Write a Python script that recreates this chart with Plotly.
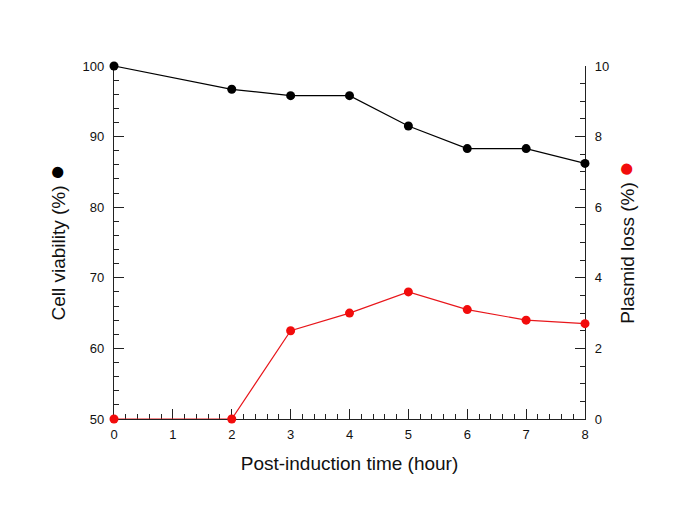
import plotly.graph_objects as go

hours = [0, 2, 3, 4, 5, 6, 7, 8]
cell_viability = [100, 96.7, 95.8, 95.8, 91.5, 88.3, 88.3, 86.2]
plasmid_loss = [0, 0, 2.5, 3.0, 3.6, 3.1, 2.8, 2.7]

x_ticks = [0, 1, 2, 3, 4, 5, 6, 7, 8]
left_ticks = [50, 60, 70, 80, 90, 100]
right_ticks = [0, 2, 4, 6, 8, 10]

FONT = "Liberation Sans, Arial, sans-serif"

fig = go.Figure()
fig.add_trace(go.Scatter(
    x=hours, y=cell_viability, mode="lines+markers",
    line=dict(color="black", width=1.2),
    marker=dict(color="black", size=9),
    cliponaxis=False, yaxis="y", showlegend=False,
))
fig.add_trace(go.Scatter(
    x=hours, y=plasmid_loss, mode="lines+markers",
    line=dict(color="#e8161b", width=1.2),
    marker=dict(color="#f20c0c", size=9),
    cliponaxis=False, yaxis="y2", showlegend=False,
))

axis_common = dict(
    showgrid=False, zeroline=False, showline=True, linecolor="#222",
    linewidth=1.2, ticks="inside", ticklen=10, tickwidth=1.2, tickcolor="#222",
    tickfont=dict(size=13, color="#111", family=FONT),
    layer="below traces", automargin=False,
)

fig.update_layout(
    width=685, height=513,
    margin=dict(l=106, r=108, t=58, b=102),
    paper_bgcolor="white", plot_bgcolor="white",
    font=dict(family=FONT),
    xaxis=dict(
        range=[0, 8], tickvals=x_ticks, ticktext=[str(v) for v in x_ticks],
        minor=dict(ticks="inside", dtick=0.2, ticklen=5, tickwidth=1.2, tickcolor="#222"),
        ticklabelstandoff=3,
        title=dict(text="Post-induction time (hour)", font=dict(size=19, color="#111"), standoff=15),
        **axis_common,
    ),
    yaxis=dict(
        range=[50, 100], tickvals=left_ticks, ticktext=[str(v) for v in left_ticks],
        minor=dict(ticks="inside", dtick=2, ticklen=5, tickwidth=1.2, tickcolor="#222"),
        ticklabelstandoff=6,
        title=dict(text="Cell viability (%) <span style='color:black;font-size:26px'>●</span>",
                   font=dict(size=19, color="#111"), standoff=11),
        **axis_common,
    ),
    yaxis2=dict(
        range=[0, 10], overlaying="y", side="right", anchor="x",
        tickvals=right_ticks, ticktext=[str(v) for v in right_ticks],
        minor=dict(ticks="inside", dtick=0.5, ticklen=5, tickwidth=1.2, tickcolor="#222"),
        ticklabelstandoff=6,
        title=dict(text="Plasmid loss (%) <span style='color:#f20c0c;font-size:26px'>●</span>",
                   font=dict(size=19, color="#111"), standoff=12),
        **axis_common,
    ),
)

fig.write_html("out.html")
